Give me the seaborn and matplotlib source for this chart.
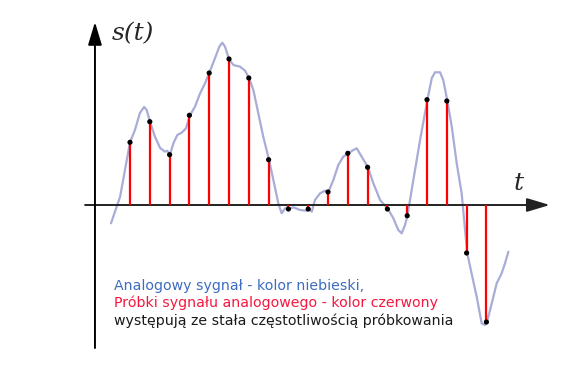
import matplotlib
matplotlib.use("Agg")
import matplotlib.pyplot as plt
import seaborn as sns

# sample instants (sample index) and sampled values
sample_t = list(range(1, 20))
sample_s = [6.27, 8.33, 5.03, 8.97, 13.2, 14.6, 12.7, 4.53, -0.4, -0.4,
            1.3, 5.17, 3.77, -0.4, -1.07, 10.53, 10.4, -4.8, -11.7]

# analog signal
curve_t = [0.04, 0.5, 1.0, 1.25, 1.5, 1.71, 1.84, 2.01, 2.26, 2.52, 2.77, 2.88,
           3.02, 3.19, 3.39, 3.61, 3.83, 4.03, 4.28, 4.54, 4.79, 5.0, 5.29, 5.51,
           5.66, 5.8, 6.0, 6.22, 6.56, 6.81, 7.01, 7.23, 7.48, 7.73, 8.02, 8.24,
           8.49, 8.66, 8.83, 9.02, 9.25, 9.59, 9.92, 10.03, 10.18, 10.34, 10.6,
           10.85, 11.02, 11.27, 11.52, 11.77, 12.03, 12.28, 12.45, 12.7, 13.02,
           13.29, 13.63, 14.03, 14.3, 14.55, 14.72, 14.89, 15.01, 15.31, 15.65,
           16.02, 16.24, 16.4, 16.66, 16.82, 17.03, 17.25, 17.5, 17.75, 18.03,
           18.25, 18.51, 18.76, 18.93, 19.03, 19.27, 19.52, 19.77, 19.94, 20.11]
curve_s = [-1.83, 0.83, 6.27, 7.5, 9.2, 9.8, 9.5, 8.33, 6.83, 5.7, 5.33, 5.43,
           5.03, 6.17, 7.0, 7.23, 7.67, 8.97, 9.83, 11.17, 12.17, 13.2, 14.67, 15.83,
           16.23, 15.83, 14.6, 14.0, 13.83, 13.43, 12.7, 11.5, 9.17, 6.83, 4.53, 2.5,
           0.17, -0.83, -0.33, -0.4, -0.23, -0.5, -0.57, -0.4, -0.67, 0.5, 1.17,
           1.43, 1.3, 2.5, 4.0, 4.83, 5.17, 5.5, 5.67, 4.83, 3.77,
           2.17, 0.5, -0.4, -1.33, -2.5, -2.83, -2.0, -1.07, 2.5, 6.5,
           10.53, 12.67, 13.27, 13.27, 12.5, 10.4, 7.83, 4.17, 1.17, -4.8,
           -6.83, -9.17, -11.83, -12.0, -11.7, -9.83, -7.83, -6.83, -5.83, -4.67]

legend_lines = ["Analogowy sygnał - kolor niebieski,",
                "Próbki sygnału analogowego - kolor czerwony",
                "występują ze stała częstotliwością próbkowania"]
legend_colors = ["#3d6cc0", "#f5173f", "#1a1a1a"]

sns.set_style("white")
plt.rcParams["font.family"] = ["DejaVu Sans"]

fig = plt.figure(figsize=(5.8, 3.7), dpi=100)
ax = fig.add_axes([0, 0, 1, 1])
ax.set_xlim(-5.566, 23.727)
ax.set_ylim(-16.5, 20.5)
ax.axis("off")

# axes with arrows
ax.annotate("", xy=(22.2, 0), xytext=(-1.27, 0),
            arrowprops=dict(arrowstyle="-|>,head_length=1.4,head_width=0.42",
                            color="#222222", lw=1.4, shrinkA=0, shrinkB=0,
                            mutation_scale=10))
ax.annotate("", xy=(-0.77, 18.3), xytext=(-0.77, -14.3),
            arrowprops=dict(arrowstyle="-|>,head_length=1.4,head_width=0.42",
                            color="black", lw=1.4, shrinkA=0, shrinkB=0,
                            mutation_scale=10))

sns.lineplot(x=curve_t, y=curve_s, sort=False, estimator=None, ax=ax,
             color="#a9acd8", lw=1.6, zorder=2)
ax.vlines(sample_t, 0, sample_s, color="#ff0000", lw=1.6, zorder=3)
sns.scatterplot(x=sample_t, y=sample_s, ax=ax, color="black", s=14,
                edgecolor="none", zorder=4)

ax.text(0.08, 17.1, "s(t)", family="DejaVu Serif", style="italic",
        fontsize=18, va="center", ha="left")
ax.text(20.65, 2.2, "t", family="DejaVu Serif", style="italic",
        fontsize=18, va="center", ha="center")

for i, (line, col) in enumerate(zip(legend_lines, legend_colors)):
    ax.text(0.19, -8.5 - 1.75 * i, line, color=col, fontsize=10.2,
            va="baseline", ha="left")

fig.savefig("out.png", dpi=100)
